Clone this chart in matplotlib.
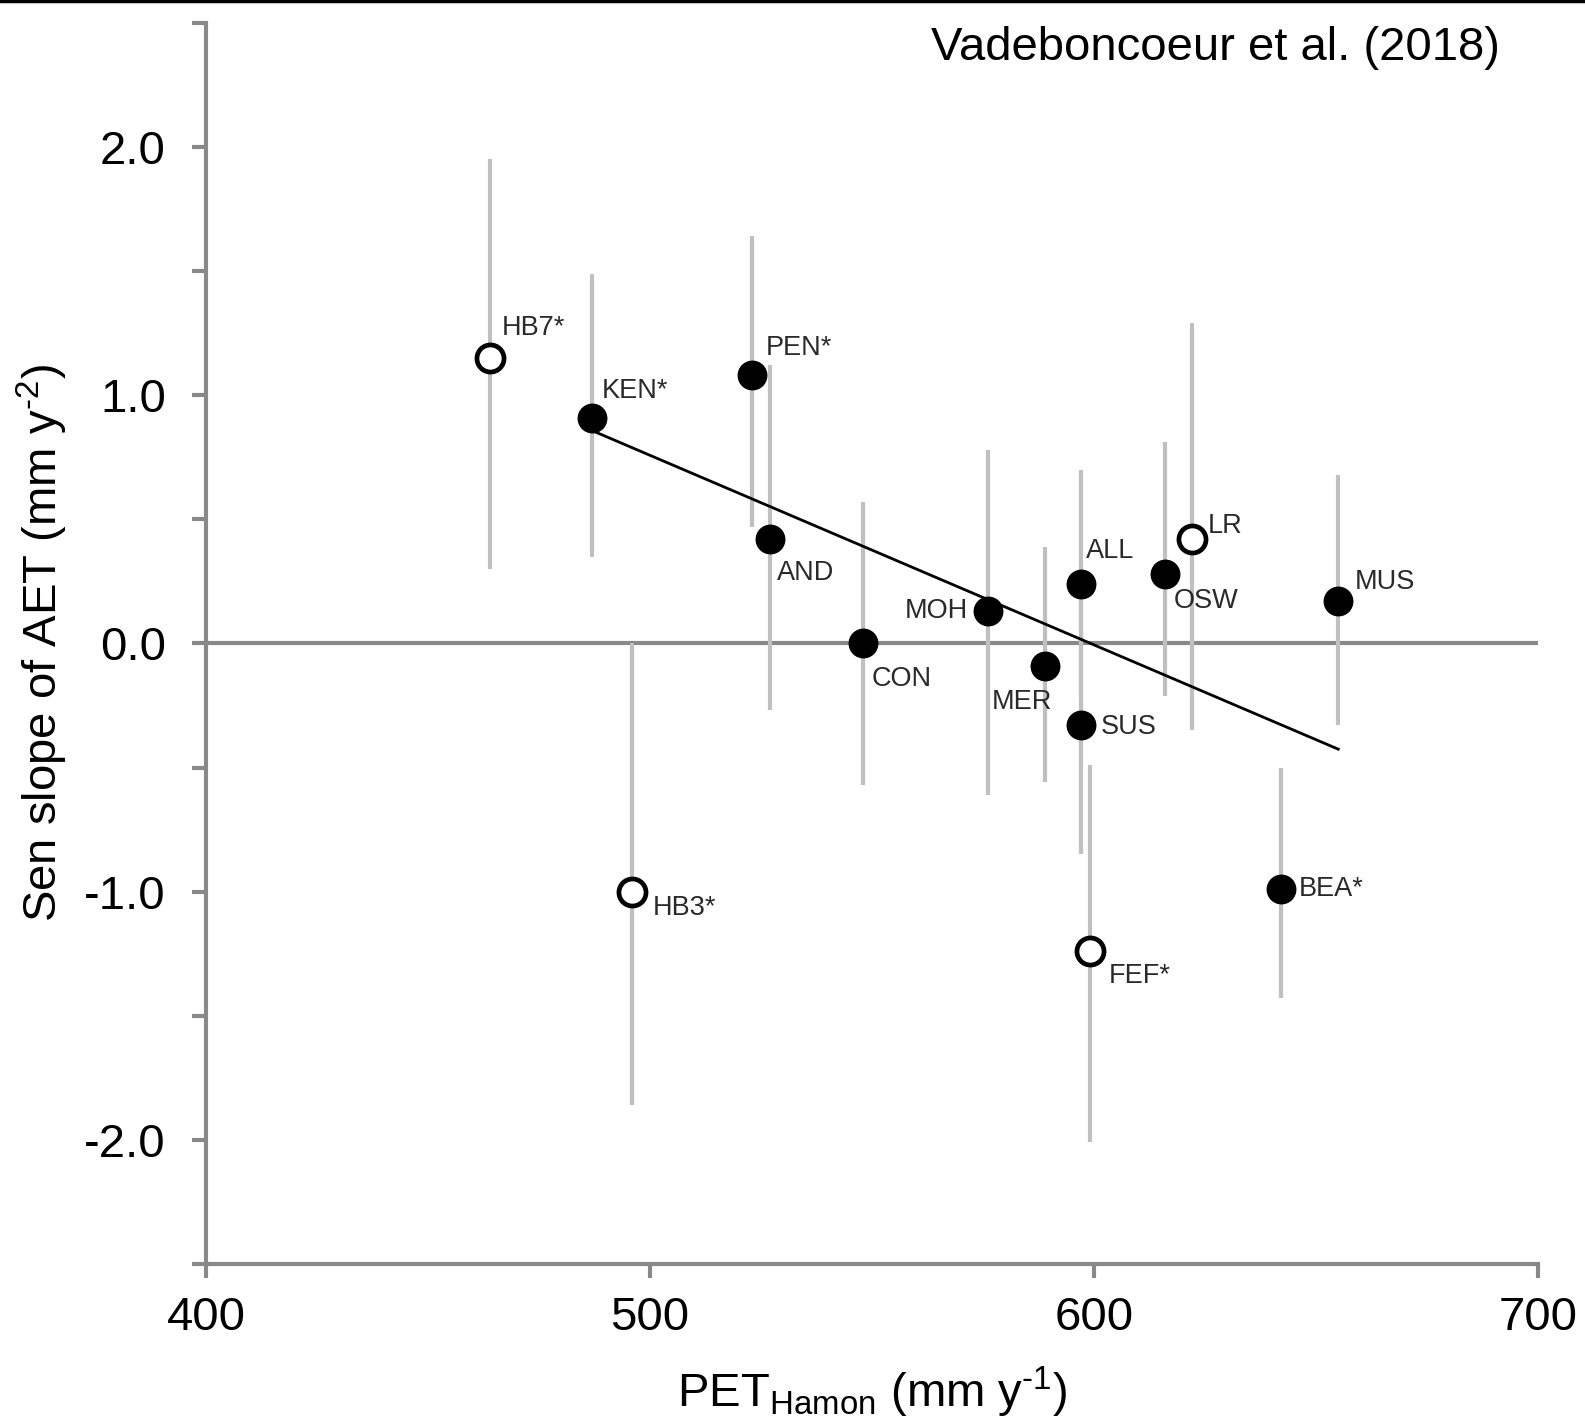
import numpy as np
import matplotlib
matplotlib.use("Agg")
import matplotlib.pyplot as plt
from matplotlib.lines import Line2D

plt.rcParams['font.family'] = ['Liberation Sans', 'DejaVu Sans']
plt.rcParams['mathtext.fontset'] = 'custom'
plt.rcParams['mathtext.rm'] = 'Liberation Sans'
plt.rcParams['mathtext.it'] = 'Liberation Sans'

# site data
sites = ["HB7*", "KEN*", "PEN*", "AND", "CON", "MOH", "MER", "ALL",
         "SUS", "OSW", "LR", "MUS", "BEA*", "FEF*", "HB3*"]
pet = [464, 487, 523, 527, 548, 576, 589, 597, 597, 616, 622, 655, 642, 599, 496]
slope = [1.15, 0.91, 1.08, 0.42, 0.0, 0.13, -0.09, 0.24, -0.33, 0.28, 0.42,
         0.17, -0.99, -1.24, -1.00]
ci_hi = [1.95, 1.49, 1.64, 1.12, 0.57, 0.78, 0.39, 0.70, 0.25, 0.81, 1.29,
         0.68, -0.50, -0.49, 0.0]
ci_lo = [0.30, 0.35, 0.47, -0.27, -0.57, -0.61, -0.56, -0.22, -0.85, -0.21,
         -0.35, -0.33, -1.43, -2.01, -1.86]
is_open = [True, False, False, False, False, False, False, False,
           False, False, True, False, False, True, True]

# label offsets (points) and alignment
lab_off = [(8, 12), (6.5, 10), (10, 10), (5, -15), (6, -16), (-14, 0),
           (-17, -17), (4, 14.5), (14.5, -1), (6.5, -10), (11.5, 9.5),
           (12, 4.5), (13, 0), (14, -18), (14.5, -11.5)]
lab_ha = ["left", "left", "left", "left", "left", "right", "center", "left",
          "left", "left", "left", "left", "left", "left", "left"]
lab_va = ["bottom", "bottom", "bottom", "top", "top", "center", "top",
          "bottom", "center", "top", "center", "bottom", "center", "center",
          "center"]

# regression line endpoints
fit_x = [487, 655]
fit_y = [0.857, -0.426]

yticks = [-2.5, -2.0, -1.5, -1.0, -0.5, 0.0, 0.5, 1.0, 1.5, 2.0, 2.5]
ylabels = ["", "-2.0", "", "-1.0", "", "0.0", "", "1.0", "", "2.0", ""]
xticks = [400, 500, 600, 700]

axcol = "#898989"

fig = plt.figure(figsize=(15.85, 14.27), dpi=100)
ax = fig.add_axes([0.130, 0.1142, 0.8404, 0.8698])

ax.axhline(0, color=axcol, lw=3, zorder=1)

for i in range(len(sites)):
    ax.plot([pet[i], pet[i]], [ci_lo[i], ci_hi[i]], color="#c0c0c0", lw=3,
            solid_capstyle="butt", zorder=2)

ax.plot(fit_x, fit_y, color="black", lw=2, zorder=3)

for i in range(len(sites)):
    if is_open[i]:
        ax.plot(pet[i], slope[i], "o", ms=19.5, mfc="white", mec="black",
                mew=3.4, zorder=4)
    else:
        ax.plot(pet[i], slope[i], "o", ms=20.5, mfc="black", mec="black",
                mew=1, zorder=4)
    ax.annotate(sites[i], (pet[i], slope[i]), xytext=lab_off[i],
                textcoords="offset points", ha=lab_ha[i], va=lab_va[i],
                fontsize=19.5, color="#2a2a2a", zorder=5)

ax.set_xlim(400, 700)
ax.set_ylim(-2.5, 2.5)
ax.set_xticks(xticks)
ax.set_xticklabels([str(v) for v in xticks])
ax.set_yticks(yticks)
ax.set_yticklabels(ylabels)

for s in ["top", "right"]:
    ax.spines[s].set_visible(False)
for s in ["left", "bottom"]:
    ax.spines[s].set_color(axcol)
    ax.spines[s].set_linewidth(3)
ax.tick_params(axis="both", colors=axcol, width=3, length=10,
               labelsize=34, labelcolor="black")
ax.tick_params(axis="y", pad=19)
ax.tick_params(axis="x", pad=13)

ax.set_xlabel(r"PET$_{\mathrm{Hamon}}$ (mm y$^{\text{-1}}$)", fontsize=34,
              labelpad=18)
ax.set_ylabel(r"Sen slope of AET (mm y$^{\text{-2}}$)", fontsize=34,
              labelpad=10)

ax.text(0.9715, 0.98, "Vadeboncoeur et al. (2018)", transform=ax.transAxes,
        ha="right", va="center", fontsize=34)

fig.add_artist(Line2D([0, 1], [0.999, 0.999], color="black", lw=2.5,
                      transform=fig.transFigure))

fig.savefig("out.png", dpi=100)
